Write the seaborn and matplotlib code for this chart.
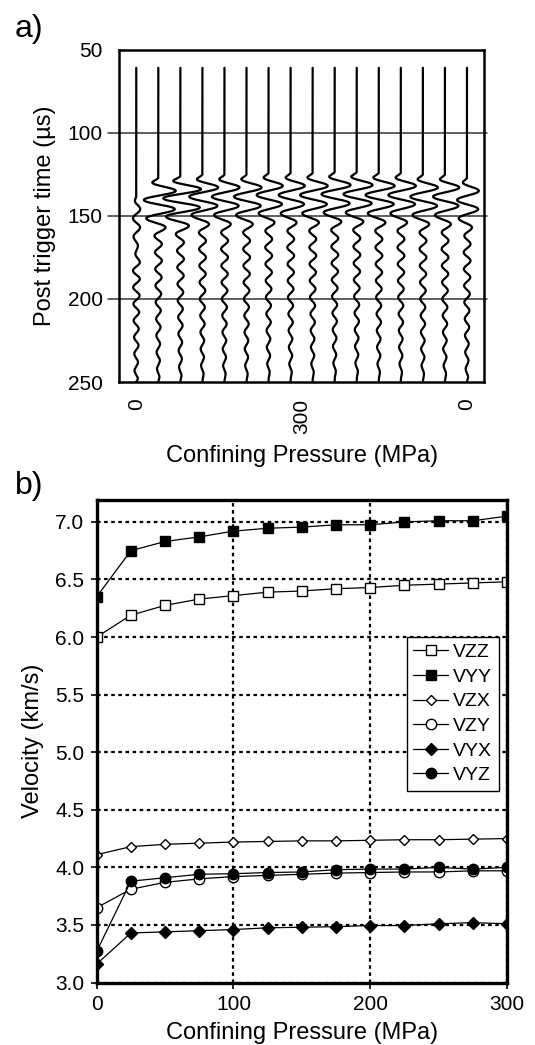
import numpy as np
import pandas as pd
import matplotlib
matplotlib.use("Agg")
import matplotlib.pyplot as plt
import seaborn as sns

# ---------------- panel a: waveforms ----------------
traceStart = 61.0   # us, where every trace begins
traceEnd = 250.0
# onset time (us) and first-arrival gain of each of the 16 traces
traceOnset = [138, 127, 126, 125, 125, 125, 124, 124, 124, 123.5, 123.5, 124, 124, 125, 125, 127]
traceGain = [0.25, 1.1, 1.3, 1.0, 0.95, 0.95, 0.9, 0.9, 0.95, 1.0, 1.0, 1.0, 0.95, 0.95, 0.9, 0.75]
# extrema of the first arrival (time after onset, offset in trace spacings)
pulseDt = [0, 3, 8, 13.5, 19, 24.5, 30, 35]
pulseAmp = [0, -0.25, 0.72, -0.6, 0.68, -0.5, 0.3, -0.16]
# extrema of the coda that follows
codaDt = [40, 45, 50, 55, 60, 65, 70, 75, 80, 85, 90, 95, 100, 105, 110, 115, 120, 125]
codaAmp = [0.16, -0.15, 0.16, -0.14, 0.15, -0.13, 0.13, -0.12, 0.11, -0.1, 0.1, -0.09,
           0.08, -0.08, 0.07, -0.06, 0.05, 0]
aTickPos = [0, 7.5, 15]
aTickLabels = ["0", "300", "0"]
aGridTimes = [100, 150, 200]

# ---------------- panel b: velocities ----------------
pressure = [0, 25, 50, 75, 100, 125, 150, 175, 200, 225, 250, 275, 300]
VZZ = [6.00, 6.19, 6.275, 6.33, 6.36, 6.39, 6.40, 6.42, 6.43, 6.45, 6.46, 6.47, 6.48]
VYY = [6.35, 6.75, 6.83, 6.87, 6.92, 6.945, 6.955, 6.975, 6.975, 7.00, 7.01, 7.01, 7.05]
VZX = [4.11, 4.18, 4.20, 4.21, 4.22, 4.225, 4.23, 4.23, 4.235, 4.24, 4.24, 4.245, 4.25]
VZY = [3.65, 3.81, 3.87, 3.90, 3.92, 3.93, 3.94, 3.95, 3.955, 3.96, 3.96, 3.97, 3.97]
VYX = [3.16, 3.43, 3.44, 3.45, 3.46, 3.475, 3.48, 3.485, 3.495, 3.495, 3.51, 3.52, 3.51]
VYZ = [3.27, 3.88, 3.91, 3.94, 3.945, 3.955, 3.96, 3.98, 3.985, 3.985, 4.0, 3.985, 4.0]

series = [("VZZ", VZZ, "s", "white", 6.8),
          ("VYY", VYY, "s", "black", 7.2),
          ("VZX", VZX, "D", "white", 5.6),
          ("VZY", VZY, "o", "white", 7.5),
          ("VYX", VYX, "D", "black", 5.8),
          ("VYZ", VYZ, "o", "black", 7.5)]


def smooth_trace(times, amps, n=14):
    # half-cosine between successive extrema so the wiggles look smooth
    tt, aa = [times[0]], [amps[0]]
    for i in range(len(times) - 1):
        s = np.linspace(0, 1, n)[1:]
        tt.extend(times[i] + (times[i + 1] - times[i]) * s)
        aa.extend(amps[i] + (amps[i + 1] - amps[i]) * (1 - np.cos(np.pi * s)) / 2)
    return np.array(tt), np.array(aa)


sns.set_style("white")
plt.rcParams["font.family"] = ["Liberation Sans", "DejaVu Sans"]
plt.rcParams["text.color"] = "black"
plt.rcParams["axes.labelcolor"] = "black"
plt.rcParams["xtick.color"] = "black"
plt.rcParams["ytick.color"] = "black"

fig = plt.figure(figsize=(5.35, 10.45), dpi=100)
axA = fig.add_axes([0.223, 0.6344, 0.682, 0.3182])
axB = fig.add_axes([0.1807, 0.0598, 0.767, 0.4617])

# ---- panel a ----
for i in range(len(traceOnset)):
    t0 = traceOnset[i]
    times = [traceStart] + [t0 + d for d in pulseDt] + [t0 + d for d in codaDt] + [traceEnd]
    amps = [0] + [traceGain[i] * a for a in pulseAmp] + codaAmp + [0]
    keep = [k for k in range(len(times)) if times[k] <= traceEnd]
    times = [times[k] for k in keep]
    amps = [amps[k] for k in keep]
    if times[-1] < traceEnd:
        times.append(traceEnd)
        amps.append(0)
    tt, aa = smooth_trace(times, amps)
    sns.lineplot(x=i + aa, y=tt, sort=False, estimator=None, color="black",
                 linewidth=1.6, ax=axA)

for t in aGridTimes:
    axA.axhline(t, xmin=-0.03, xmax=1.008, color="#333333", linewidth=1.1,
                clip_on=False, zorder=0)
axA.set_xlim(-0.77, 15.78)
axA.set_ylim(250, 50)
axA.set_yticks([50, 100, 150, 200, 250])
axA.set_xticks(aTickPos)
axA.set_xticklabels(aTickLabels, rotation=90)
axA.tick_params(axis="both", length=0, labelsize=15, labelcolor="black")
axA.tick_params(axis="y", pad=12)
axA.tick_params(axis="x", pad=12)
axA.set_ylabel("Post trigger time (\u00b5s)", fontsize=17, labelpad=8)
axA.set_xlabel("Confining Pressure (MPa)", fontsize=17, labelpad=8)
for sp in axA.spines.values():
    sp.set_linewidth(1.8)
    sp.set_color("black")

# ---- panel b ----
for name, vals, mk, fc, ms in series:
    sns.lineplot(x=pressure, y=vals, color="black", linewidth=0.9, marker=mk,
                 markersize=ms, markerfacecolor=fc, markeredgecolor="black",
                 markeredgewidth=1.0, label=name, ax=axB)

axB.set_xlim(0, 300)
axB.set_ylim(3.0, 7.19)
axB.set_xticks([0, 100, 200, 300])
axB.set_yticks(np.arange(3.0, 7.01, 0.5))
axB.set_yticklabels(["%.1f" % v for v in np.arange(3.0, 7.01, 0.5)])
axB.grid(True, color="black", linestyle=(0, (1.6, 1.6)), linewidth=1.6)
axB.tick_params(axis="both", direction="out", length=4, width=1.2, labelsize=15,
                color="black", labelcolor="black", left=True, bottom=True)
axB.tick_params(axis="y", pad=5)
axB.tick_params(axis="x", pad=5)
axB.set_xlabel("Confining Pressure (MPa)", fontsize=17, labelpad=6)
axB.set_ylabel("Velocity (km/s)", fontsize=17, labelpad=8)
for sp in axB.spines.values():
    sp.set_linewidth(2.4)
    sp.set_color("black")

leg = axB.legend(loc="upper right", bbox_to_anchor=(0.9805, 0.7167), borderaxespad=0,
                 fontsize=14, frameon=True, fancybox=False, edgecolor="black",
                 handlelength=1.8, handletextpad=0.25, labelspacing=0.36, borderpad=0.35)
leg.get_frame().set_linewidth(1.0)
leg.get_frame().set_alpha(1)

fig.text(0.028, 0.972, "a)", fontsize=23, ha="left", va="center")
fig.text(0.028, 0.535, "b)", fontsize=23, ha="left", va="center")

fig.savefig("out.png", dpi=100)
